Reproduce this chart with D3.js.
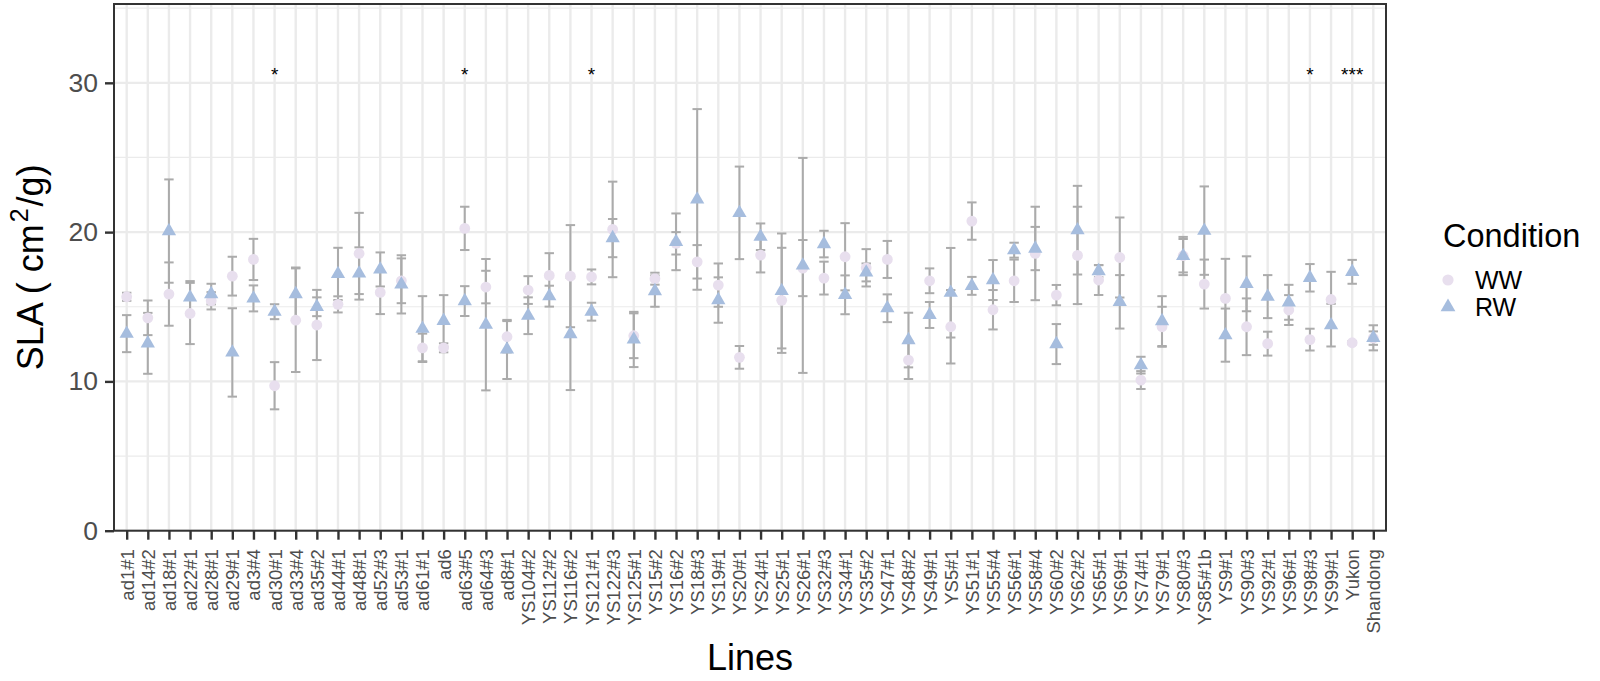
<!DOCTYPE html>
<html>
<head>
<meta charset="utf-8">
<script src="https://cdn.jsdelivr.net/npm/d3@7"></script>
<style>
  body { margin: 0; background: #fff; }
  svg { font-family: "Liberation Sans", Arial, sans-serif; }
</style>
</head>
<body>
<div id="chart"></div>
<script>
// plant lines on the x axis
const lines = ["ad1#1","ad14#2","ad18#1","ad22#1","ad28#1","ad29#1","ad3#4","ad30#1","ad33#4","ad35#2",
  "ad44#1","ad48#1","ad52#3","ad53#1","ad61#1","ad6","ad63#5","ad64#3","ad8#1","YS104#2",
  "YS112#2","YS116#2","YS121#1","YS122#3","YS125#1","YS15#2","YS16#2","YS18#3","YS19#1","YS20#1",
  "YS24#1","YS25#1","YS26#1","YS32#3","YS34#1","YS35#2","YS47#1","YS48#2","YS49#1","YS5#1",
  "YS51#1","YS55#4","YS56#1","YS58#4","YS60#2","YS62#2","YS65#1","YS69#1","YS74#1","YS79#1",
  "YS80#3","YS85#1b","YS9#1","YS90#3","YS92#1","YS96#1","YS98#3","YS99#1","Yukon","Shandong"];

// well-watered
const wwMean = [15.67,14.26,15.85,14.55,15.4,17.05,18.17,9.71,14.1,13.78,
  15.16,18.57,15.96,16.74,12.25,12.25,20.25,16.32,12.99,16.12,
  17.1,17.05,17.0,20.18,13.06,16.88,19.25,18.01,16.45,11.61,
  18.46,15.43,17.59,16.92,18.35,17.61,18.17,11.43,16.74,13.66,
  20.74,14.8,16.74,18.57,15.78,18.44,16.79,18.3,10.09,13.66,
  18.42,16.52,15.56,13.66,12.53,14.78,12.8,15.49,12.59,12.9];
const wwSe = [0.27,1.16,2.12,2.05,0.58,1.3,1.38,1.58,3.47,2.35,
  0.54,2.72,1.45,1.5,0.95,0.3,1.45,1.09,1.05,0.93,
  1.49,3.42,0.5,3.2,1.5,0.4,0.75,1.12,1.45,0.76,
  1.16,3.52,1.88,1.1,2.25,1.25,1.24,1.27,0.83,2.46,
  1.25,1.32,1.42,3.13,0.68,3.26,1.0,2.68,0.6,1.34,
  1.12,1.64,2.65,1.9,0.8,1.0,0.73,1.85,0.1,0.45];

// reduced watering
const rwMean = [13.2,12.55,20.07,15.63,15.85,11.94,15.56,14.67,15.85,15.0,
  17.2,17.23,17.5,16.5,13.53,14.06,15.38,13.8,12.14,14.4,
  15.71,13.17,14.67,19.6,12.81,16.05,19.35,22.19,15.45,21.29,
  19.69,16.06,17.77,19.2,15.8,17.3,14.9,12.77,14.45,15.94,
  16.4,16.79,18.79,18.9,12.5,20.13,17.39,15.33,11.09,14.04,
  18.4,20.1,13.1,16.54,15.68,15.3,16.94,13.77,17.34,12.92];
const rwSe = [1.24,2.04,3.46,1.09,0.69,2.96,0.87,0.5,1.78,0.63,
  1.75,1.75,1.14,1.95,2.18,1.72,1.0,4.4,1.98,1.23,
  0.7,3.75,0.6,1.28,1.85,1.05,1.9,6.05,1.52,3.1,
  0.89,3.85,7.2,0.89,1.3,0.6,0.93,1.83,0.87,3.0,
  0.6,1.34,0.5,1.45,1.34,2.97,0.4,1.79,0.56,1.67,
  1.28,2.96,1.78,1.84,1.44,1.17,0.92,1.43,0.8,0.84];

// significance marks
const sigLines = ["ad30#1","ad63#5","YS121#1","YS98#3","Yukon"];
const sigMarks = ["*","*","*","*","***"];
const sigY = 30.1;

const yTicks = [0, 10, 20, 30];
const yMinor = [5, 15, 25, 35];

const W = 1600, H = 681;
const margin = {left: 114, right: 214, top: 4, bottom: 150.3};
const colWW = "#E8DFEE", colRW = "#A6BDDE", colErr = "#ABABAB";

const svg = d3.select("#chart").append("svg").attr("width", W).attr("height", H);

const x = d3.scalePoint().domain(lines).range([margin.left, W - margin.right]).padding(0.6);
const y = d3.scaleLinear().domain([0, 35.28]).range([H - margin.bottom, margin.top]);

const g = svg.append("g");

// grid
g.selectAll(".minor").data(yMinor).enter().append("line")
  .attr("x1", margin.left).attr("x2", W - margin.right)
  .attr("y1", d => y(d)).attr("y2", d => y(d))
  .attr("stroke", "#EBEBEB").attr("stroke-width", 1.2);
g.selectAll(".majorY").data(yTicks).enter().append("line")
  .attr("x1", margin.left).attr("x2", W - margin.right)
  .attr("y1", d => y(d)).attr("y2", d => y(d))
  .attr("stroke", "#EBEBEB").attr("stroke-width", 2.4);
g.selectAll(".majorX").data(lines).enter().append("line")
  .attr("x1", d => x(d)).attr("x2", d => x(d))
  .attr("y1", margin.top).attr("y2", H - margin.bottom)
  .attr("stroke", "#EBEBEB").attr("stroke-width", 2.4);

const rows = lines.map((l, i) => ({line: l, ww: wwMean[i], wwSe: wwSe[i], rw: rwMean[i], rwSe: rwSe[i]}));

function errorbars(cls, mean, se) {
  const eb = g.selectAll("." + cls).data(rows).enter().append("g")
    .attr("stroke", colErr).attr("stroke-width", 2).attr("fill", "none");
  eb.append("line")
    .attr("x1", d => x(d.line)).attr("x2", d => x(d.line))
    .attr("y1", d => y(d[mean] - d[se])).attr("y2", d => y(d[mean] + d[se]));
  eb.append("line")
    .attr("x1", d => x(d.line) - 4.7).attr("x2", d => x(d.line) + 4.7)
    .attr("y1", d => y(d[mean] - d[se])).attr("y2", d => y(d[mean] - d[se]));
  eb.append("line")
    .attr("x1", d => x(d.line) - 4.7).attr("x2", d => x(d.line) + 4.7)
    .attr("y1", d => y(d[mean] + d[se])).attr("y2", d => y(d[mean] + d[se]));
}
errorbars("ebw", "ww", "wwSe");
errorbars("ebr", "rw", "rwSe");

g.selectAll(".ww").data(rows).enter().append("circle")
  .attr("cx", d => x(d.line)).attr("cy", d => y(d.ww)).attr("r", 5.4)
  .attr("fill", colWW);

const tri = d3.symbol().type(d3.symbolTriangle).size(88);
g.selectAll(".rw").data(rows).enter().append("path")
  .attr("d", tri)
  .attr("transform", d => `translate(${x(d.line)},${y(d.rw)})`)
  .attr("fill", colRW);

// stars
g.selectAll(".sig").data(sigLines).enter().append("text")
  .attr("x", d => x(d)).attr("y", y(sigY))
  .attr("text-anchor", "middle").attr("font-size", 19).attr("fill", "#000")
  .text((d, i) => sigMarks[i]);

// panel border
g.append("rect")
  .attr("x", margin.left).attr("y", margin.top)
  .attr("width", W - margin.left - margin.right).attr("height", H - margin.top - margin.bottom)
  .attr("fill", "none").attr("stroke", "#333").attr("stroke-width", 2);

// axes
const yAxis = svg.append("g").attr("transform", `translate(${margin.left},0)`)
  .call(d3.axisLeft(y).tickValues(yTicks).tickSize(9).tickPadding(7));
yAxis.select(".domain").remove();
yAxis.selectAll(".tick line").attr("stroke", "#333").attr("stroke-width", 2.4);
yAxis.selectAll(".tick text").attr("fill", "#4D4D4D").attr("font-size", 26.5)
  .attr("font-family", "Liberation Sans, Arial, sans-serif");

const xAxis = svg.append("g").attr("transform", `translate(0,${H - margin.bottom})`)
  .call(d3.axisBottom(x).tickSize(9).tickPadding(0));
xAxis.select(".domain").remove();
xAxis.selectAll(".tick line").attr("stroke", "#333").attr("stroke-width", 2.4);
xAxis.selectAll(".tick text")
  .attr("fill", "#4D4D4D").attr("font-size", 18.5)
  .attr("font-family", "Liberation Sans, Arial, sans-serif")
  .attr("text-anchor", "end")
  .attr("transform", "translate(0,18.5) rotate(-90)")
  .attr("x", 0).attr("y", 0).attr("dy", "0.35em");

// titles
svg.append("text")
  .attr("x", (margin.left + W - margin.right) / 2).attr("y", 670)
  .attr("text-anchor", "middle").attr("font-size", 36).attr("fill", "#000")
  .text("Lines");

const yt = svg.append("text")
  .attr("transform", `translate(42.5,${(margin.top + H - margin.bottom) / 2}) rotate(-90)`)
  .attr("text-anchor", "middle").attr("font-size", 36).attr("fill", "#000");
yt.append("tspan").text("SLA ( cm");
yt.append("tspan").attr("font-size", 25).attr("dy", -15).attr("dx", 2).text("2");
yt.append("tspan").attr("dy", 15).attr("dx", 2).text("/g)");

// legend
const lg = svg.append("g");
lg.append("text").attr("x", 1443).attr("y", 246.5).attr("font-size", 32.5).attr("fill", "#000").text("Condition");
const keys = [{label: "WW", col: colWW, shape: "c"}, {label: "RW", col: colRW, shape: "t"}];
keys.forEach((k, i) => {
  const cy = 280 + i * 27;
  if (k.shape === "c") {
    lg.append("circle").attr("cx", 1448).attr("cy", cy).attr("r", 5.6).attr("fill", k.col);
  } else {
    lg.append("path").attr("d", d3.symbol().type(d3.symbolTriangle).size(95))
      .attr("transform", `translate(1448,${cy})`).attr("fill", k.col);
  }
  lg.append("text").attr("x", 1475).attr("y", cy + 9).attr("font-size", 25).attr("fill", "#000").text(k.label);
});
</script>
</body>
</html>
